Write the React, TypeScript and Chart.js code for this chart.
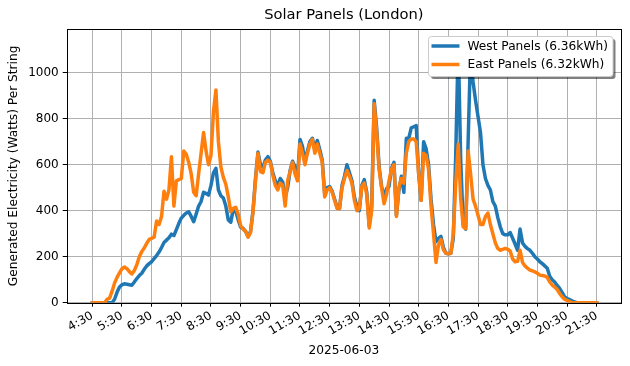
import React, { useEffect, useRef } from "react";
import { Chart, registerables } from "chart.js";

Chart.register(...registerables);

const chartTitle = "Solar Panels (London)";
const xAxisLabel = "2025-06-03";
const yAxisLabel = "Generated Electricity (Watts) Per String";
const seriesNames = ["West Panels (6.36kWh)", "East Panels (6.32kWh)"];
const seriesColors = ["#1f77b4", "#ff7f0e"];

// samples every 5 minutes from 4:30 to 21:30
const startHour = 4.5;
const stepMinutes = 5;

const westValues = [
  0, 0, 0, 0, 0, 0, 0, 0, 0, 15,
  45, 68, 78, 82, 80, 78, 76, 90, 105, 118,
  128, 145, 160, 170, 178, 192, 205, 220, 240, 262,
  272, 282, 298, 292, 318, 345, 368, 380, 390, 395,
  375, 352, 385, 420, 440, 480, 475, 468, 510, 565,
  584, 490, 465, 455, 420, 360, 350, 405, 400, 360,
  328, 323, 310, 288, 310, 400, 540, 655, 600, 590,
  620, 635, 615, 565, 530, 510, 540, 525, 460, 500,
  575, 615, 590, 545, 710, 680, 610, 660, 700, 715,
  668, 705, 665, 620, 470, 500, 505, 485, 450, 415,
  410, 510, 550, 600, 565, 530, 460, 420, 400, 510,
  535, 480, 335, 420, 880, 760, 590, 505, 460, 495,
  505, 585, 610, 380, 490, 550, 480, 715, 715, 760,
  765, 770, 560, 445, 700, 670, 600, 450, 340, 265,
  280, 288, 240, 215, 213, 215, 280, 650, 1130, 620,
  340, 320, 700, 1100, 960, 880, 810, 740, 600, 540,
  510, 490, 440, 420, 370, 330, 300, 295, 295, 305,
  280, 255, 228, 320, 260, 245, 235, 228, 215, 200,
  190, 178, 170, 160, 150, 115, 100, 90, 75, 62,
  45, 25, 18, 14, 8, 4, 0, 0, 0, 0,
  0, 0, 0, 0, 0,
];

const eastValues = [
  0, 0, 0, 0, 0, 0, 15, 20, 50, 85,
  110, 130, 148, 155, 148, 135, 125, 140, 165, 200,
  222, 238, 258, 275, 280, 285, 355, 340, 375, 485,
  450, 490, 635, 420, 530, 535, 540, 660, 645, 610,
  560, 480, 465, 560, 650, 740, 660, 600, 640, 830,
  925, 700, 590, 545, 515, 460, 395, 410, 415, 385,
  335, 320, 310, 285, 305, 395, 530, 650, 570, 565,
  610, 620, 610, 555, 510, 490, 520, 510, 420, 530,
  570, 610, 560, 530, 690, 650, 600, 650, 690, 710,
  650, 690, 650, 610, 460, 490, 500, 480, 445, 410,
  410, 500, 540, 575, 550, 520, 445, 400, 410, 505,
  520, 470, 325, 400, 865, 740, 580, 500, 430, 470,
  530, 580, 600, 375, 500, 540, 520, 650, 700, 712,
  712, 700, 560, 445, 650, 640, 580, 420, 300, 175,
  250, 275, 230, 215, 213, 215, 300, 520, 690, 450,
  330, 322, 660, 560, 450, 420, 380, 340, 340, 375,
  390, 340, 300, 260, 236, 228, 232, 236, 232, 225,
  190, 178, 180, 228, 175, 160, 150, 142, 138, 134,
  128, 120, 118, 116, 110, 90, 77, 68, 58, 40,
  26, 15, 10, 5, 0, 0, 0, 0, 0, 0,
  0, 0, 0, 0, 0,
];

const xTickValues = [4.5, 5.5, 6.5, 7.5, 8.5, 9.5, 10.5, 11.5, 12.5, 13.5, 14.5, 15.5, 16.5, 17.5, 18.5, 19.5, 20.5, 21.5];
const xTickLabels = ["4:30", "5:30", "6:30", "7:30", "8:30", "9:30", "10:30", "11:30", "12:30", "13:30", "14:30", "15:30", "16:30", "17:30", "18:30", "19:30", "20:30", "21:30"];
const yTickValues = [0, 200, 400, 600, 800, 1000];

const X_MIN = 3.637;
const X_MAX = 22.319;
const Y_MIN = 0;
const Y_MAX = 1190;

const FONT = "'DejaVu Sans', Verdana, sans-serif";

function roundRect(ctx: CanvasRenderingContext2D, x: number, y: number, w: number, h: number, r: number) {
  ctx.beginPath();
  ctx.moveTo(x + r, y);
  ctx.lineTo(x + w - r, y);
  ctx.arcTo(x + w, y, x + w, y + r, r);
  ctx.lineTo(x + w, y + h - r);
  ctx.arcTo(x + w, y + h, x + w - r, y + h, r);
  ctx.lineTo(x + r, y + h);
  ctx.arcTo(x, y + h, x, y + h - r, r);
  ctx.lineTo(x, y + r);
  ctx.arcTo(x, y, x + r, y, r);
  ctx.closePath();
}

const framePlugin = {
  id: "mplFrame",
  afterDatasetsDraw(chart: any) {
    const { ctx, chartArea: a } = chart;
    ctx.save();
    ctx.strokeStyle = "#000";
    ctx.lineWidth = 1;
    ctx.strokeRect(Math.round(a.left) + 0.5, Math.round(a.top) + 0.5, Math.round(a.right - a.left), Math.round(a.bottom - a.top));
    ctx.restore();
  },
  afterDraw(chart: any) {
    const { ctx, chartArea: a } = chart;
    ctx.save();
    // title
    ctx.fillStyle = "#000";
    ctx.font = `14.7px ${FONT}`;
    ctx.textAlign = "center";
    ctx.textBaseline = "middle";
    ctx.fillText(chartTitle, (a.left + a.right) / 2, 15.5);

    // legend
    const bx = 428.5, by = 36.5, bw = 184.5, bh = 40;
    ctx.fillStyle = "rgba(0,0,0,0.5)";
    roundRect(ctx, bx + 2.5, by + 2.5, bw, bh, 3);
    ctx.fill();
    ctx.fillStyle = "#fff";
    roundRect(ctx, bx, by, bw, bh, 3);
    ctx.fill();
    ctx.strokeStyle = "#cccccc";
    ctx.lineWidth = 1;
    ctx.stroke();
    const rows = [46, 64.5];
    ctx.font = `12.2px ${FONT}`;
    ctx.textAlign = "left";
    ctx.textBaseline = "middle";
    seriesNames.forEach((name, i) => {
      ctx.strokeStyle = seriesColors[i];
      ctx.lineWidth = 3.5;
      ctx.lineCap = "butt";
      ctx.beginPath();
      ctx.moveTo(431.5, rows[i]);
      ctx.lineTo(459.5, rows[i]);
      ctx.stroke();
      ctx.fillStyle = "#000";
      ctx.fillText(name, 467.5, rows[i] + 0.5);
    });
    ctx.restore();
  },
};

export default function App() {
  const ref = useRef<HTMLCanvasElement>(null);
  useEffect(() => {
    document.body.style.margin = "0";
    const canvas = ref.current;
    if (!canvas) return;
    const times = westValues.map((_, i) => startHour + (i * stepMinutes) / 60);
    const chart = new Chart(canvas, {
      type: "line",
      data: {
        datasets: [
          {
            label: seriesNames[0],
            data: times.map((t, i) => ({ x: t, y: westValues[i] })),
            borderColor: seriesColors[0],
            backgroundColor: seriesColors[0],
            borderWidth: 3.5,
            pointRadius: 0,
            tension: 0,
            borderJoinStyle: "round",
            borderCapStyle: "square",
            clip: 0,
            order: 1,
          },
          {
            label: seriesNames[1],
            data: times.map((t, i) => ({ x: t, y: eastValues[i] })),
            borderColor: seriesColors[1],
            backgroundColor: seriesColors[1],
            borderWidth: 3.5,
            pointRadius: 0,
            tension: 0,
            borderJoinStyle: "round",
            borderCapStyle: "square",
            clip: 0,
            order: 0,
          },
        ],
      },
      options: {
        animation: false,
        responsive: false,
        maintainAspectRatio: false,
        devicePixelRatio: 1,
        layout: { padding: { left: 0, right: 9, top: 29, bottom: 0 } },
        plugins: {
          legend: { display: false },
          title: { display: false },
          tooltip: { enabled: false },
        },
        scales: {
          x: {
            type: "linear",
            min: X_MIN,
            max: X_MAX,
            afterBuildTicks: (s: any) => {
              s.ticks = xTickValues.map((v) => ({ value: v }));
            },
            afterFit: (s: any) => {
              s.height = 63.3;
            },
            ticks: {
              autoSkip: false,
              minRotation: 30,
              maxRotation: 30,
              color: "#000",
              font: { family: FONT, size: 12 },
              padding: 2,
              callback: (_v: any, i: number) => xTickLabels[i],
            },
            grid: { color: "#b0b0b0", lineWidth: 1, tickColor: "#000", tickLength: 4, tickWidth: 1 },
            border: { display: false },
            title: {
              display: true,
              text: xAxisLabel,
              color: "#000",
              font: { family: FONT, size: 12.2 },
              padding: { top: 0, bottom: 8 },
            },
          },
          y: {
            type: "linear",
            min: Y_MIN,
            max: Y_MAX,
            afterBuildTicks: (s: any) => {
              s.ticks = yTickValues.map((v) => ({ value: v }));
            },
            afterFit: (s: any) => {
              s.width = 66.7;
            },
            ticks: {
              color: "#000",
              font: { family: FONT, size: 12 },
              padding: 4,
              callback: (v: any) => String(v),
            },
            grid: { color: "#b0b0b0", lineWidth: 1, tickColor: "#000", tickLength: 4, tickWidth: 1 },
            border: { display: false },
            title: {
              display: true,
              text: yAxisLabel,
              color: "#000",
              font: { family: FONT, size: 12.2 },
              padding: { top: 7, bottom: 0 },
            },
          },
        },
      },
      plugins: [framePlugin],
    } as any);
    return () => chart.destroy();
  }, []);
  return (
    <div style={{ width: 630, height: 366 }}>
      <canvas ref={ref} width={630} height={366} style={{ display: "block" }} />
    </div>
  );
}
